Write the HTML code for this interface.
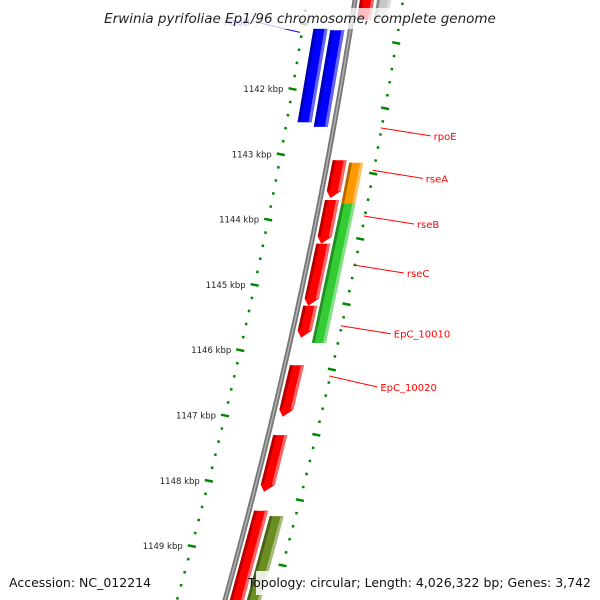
<!DOCTYPE html>
<html><head><meta charset="utf-8"><style>
body{margin:0;background:#fff}
svg{display:block;font-family:"DejaVu Sans","Liberation Sans",sans-serif}
</style></head><body>
<svg id="map" width="600" height="600" viewBox="0 0 600 600">
<g id="rings"></g>
<path id="backbone" fill="none" stroke="#777" stroke-width="5"/>
<path id="backbone2" fill="none" stroke="#b0b0b0" stroke-width="1.5"/>
<g id="genes"></g>
<g id="labels"></g>
<rect x="100" y="8" width="400" height="21" fill="#fff" opacity="0.75"/>
<text x="300" y="23" text-anchor="middle" font-size="13.5" font-style="italic" fill="#222">Erwinia pyrifoliae Ep1/96 chromosome, complete genome</text>
<text x="9" y="587" font-size="12.5" fill="#111">Accession: NC_012214</text>
<rect x="256" y="571" width="340" height="24" fill="#fff" opacity="0.85"/>
<text x="591" y="587" text-anchor="end" font-size="12.5" fill="#111">Topology: circular; Length: 4,026,322 bp; Genes: 3,742</text>
</svg>
<script>
const tickStart = 1140.4;
const tickEnd = 1150.2;
const majorLabels = [1141,1142,1143,1144,1145,1146,1147,1148,1149];
const geneStarts = [1140.4,1143.09,1143.70,1144.37,1145.32,1146.23,1147.30,1148.46,1140.4,1143.13,1143.75,1148.54,1141.07,1141.10];
const geneEnds   = [1140.94,1143.67,1144.37,1145.32,1145.81,1147.02,1148.17,1150.0,1140.94,1143.75,1145.89,1150.0,1142.51,1142.58];
const geneLanes  = [1,1,1,1,1,1,1,1,2,2,2,2,-2,-1];
const geneArrow  = [0,1,1,1,1,1,1,0,0,0,0,0,0,0];
const geneColors = ["#ff0000","#ff0000","#ff0000","#ff0000","#ff0000","#ff0000","#ff0000","#ff0000","#c8c8c8","#ff9900","#33cc33","#6b8e23","#0000ff","#0000ff"];
const labelNames = ["nadB","rpoE","rseA","rseB","rseC","EpC_10010","EpC_10020"];
const labelKbp   = [1141.5,1143.3,1143.95,1144.65,1145.4,1146.33,1147.1];
const labelSide  = [-1,1,1,1,1,1,1];
const labelColors= ["#0000ff","#ff0000","#ff0000","#ff0000","#ff0000","#ff0000","#ff0000"];
const labelOffsets = [[-47,-11],[50,8],[50,8],[50,8],[50,8],[50,8],[48,11]];

const NS="http://www.w3.org/2000/svg";
function yOf(k){return 89+(k-1142)*65.3;}
function bx(y){return 355-0.1538*y-0.0001048*y*y;}
function mk(tag,attrs,parent){const e=document.createElementNS(NS,tag);for(const a in attrs)e.setAttribute(a,attrs[a]);parent.appendChild(e);return e;}

// backbone
let d="";for(let y=-10;y<=610;y+=10){d+=(y===-10?"M":"L")+bx(y).toFixed(1)+" "+y+" ";}
document.getElementById("backbone").setAttribute("d",d);
document.getElementById("backbone2").setAttribute("d",d);

// rings
const rings=document.getElementById("rings");
for(let i=0;;i++){
  const k=tickStart+i*0.2; if(k>tickEnd)break;
  const major=Math.abs(k-Math.round(k))<0.01;
  [-1,1].forEach(side=>{
    const y=yOf(k)+(side>0?-46:0);
    const x=bx(y)+side*48;
    const len=major?8:2.5;
    const t=mk("line",{x1:x-len/2,y1:y-len*0.1,x2:x+len/2,y2:y+len*0.1,stroke:"#008800","stroke-width":2.5},rings);
    
    
  });
}
majorLabels.forEach(k=>{
  const y=yOf(k);const x=bx(y)-48-9;
  const t=mk("text",{x:x,y:y+3,"text-anchor":"end","font-size":8.5,fill:k===1141?"#ccc":"#222"},rings);
  t.textContent=k+" kbp";
  
  
});

// genes
const genes=document.getElementById("genes");
function shade(c,f){const n=parseInt(c.slice(1),16);let r=n>>16,g=(n>>8)&255,b=n&255;
  if(f<0){r*=1+f;g*=1+f;b*=1+f;}else{r+=(255-r)*f;g+=(255-g)*f;b+=(255-b)*f;}
  return "rgb("+[r,g,b].map(v=>Math.round(v)).join(",")+")";}
geneStarts.forEach((s,i)=>{
  const lane=geneLanes[i];
  const o1=lane>0?(lane===1?5:22):(lane===-1?-20:-37);
  const o2=o1+14;
  const y1=yOf(s),y2=yOf(geneEnds[i]);
  const arrow=geneArrow[i]?7:0;
  const pts=[[bx(y1)+o1,y1],[bx(y1)+o2,y1],[bx(y2-arrow)+o2,y2-arrow],[bx(y2)+(o1+o2)/2-2,y2],[bx(y2-arrow)+o1,y2-arrow]];
  const g=mk("polygon",{points:pts.map(p=>p[0].toFixed(1)+","+p[1].toFixed(1)).join(" "),fill:geneColors[i]},genes);
  
  
  const dk=mk("polygon",{points:[[bx(y1)+o1,y1],[bx(y1)+o1+3,y1],[bx(y2-arrow)+o1+3,y2-arrow-1],[bx(y2-arrow)+o1,y2-arrow]].map(p=>p[0].toFixed(1)+","+p[1].toFixed(1)).join(" "),fill:shade(geneColors[i],-0.3)},genes);
  
  
  const lt=mk("polygon",{points:[[bx(y1)+o2-3,y1],[bx(y1)+o2,y1],[bx(y2-arrow)+o2,y2-arrow],[bx(y2-arrow)+o2-3,y2-arrow]].map(p=>p[0].toFixed(1)+","+p[1].toFixed(1)).join(" "),fill:shade(geneColors[i],0.4)},genes);
  
  
});

// labels
const labels=document.getElementById("labels");
labelNames.forEach((n,i)=>{
  const side=labelSide[i];
  const y=yOf(labelKbp[i])+(side>0?-46:0)+ (side>0?0:-24);
  const x=bx(y)+side*48+(side>0?-1:-2);
  const lx=x+labelOffsets[i][0], ly=y+labelOffsets[i][1];
  const l=mk("line",{x1:x,y1:y,x2:lx,y2:ly,stroke:labelColors[i],"stroke-width":1},labels);
  
  
  const t=mk("text",{x:lx+(side>0?3:-3),y:ly+4,"text-anchor":side>0?"start":"end","font-size":10,fill:labelColors[i]},labels);
  t.textContent=n;
  
  
});
</script>
</body></html>
